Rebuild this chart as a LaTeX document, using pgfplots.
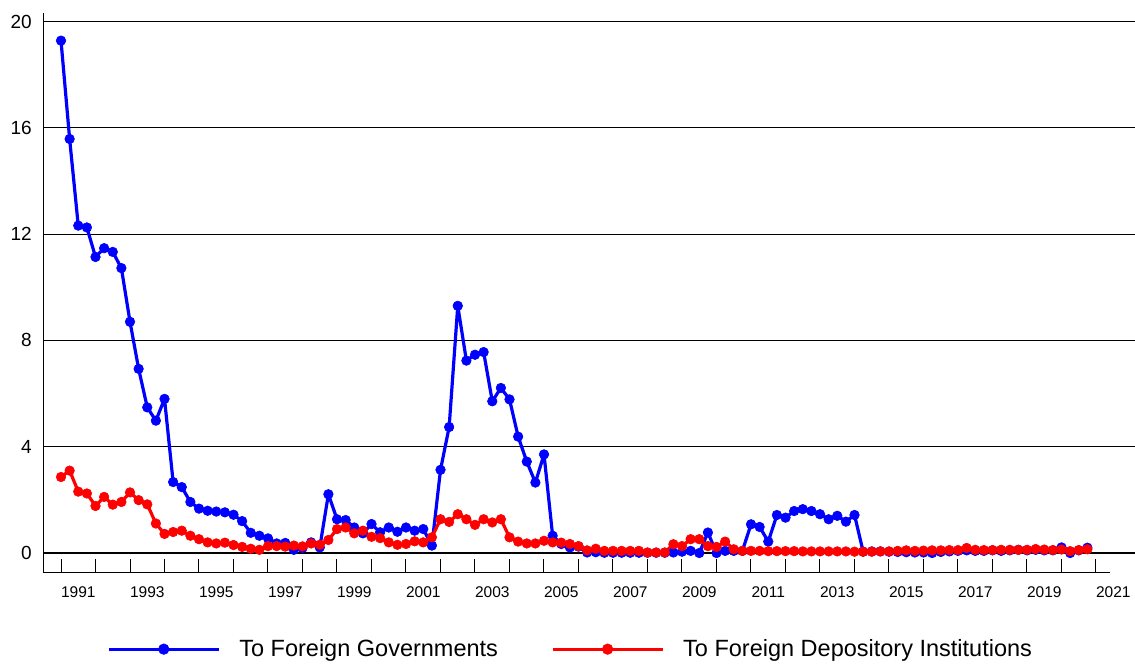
\documentclass[border=0pt]{standalone}
\usepackage{fontspec}
\setmainfont{Liberation Sans}
\usepackage{pgfplots}
\usepackage{pgfplotstable}
\pgfplotsset{compat=1.18}

\pgfplotstableread{
date gov dep
1991.00 19.28 2.86
1991.25 15.58 3.10
1991.50 12.32 2.31
1991.75 12.25 2.24
1992.00 11.14 1.77
1992.25 11.47 2.11
1992.50 11.33 1.82
1992.75 10.72 1.92
1993.00 8.70 2.28
1993.25 6.93 1.99
1993.50 5.48 1.83
1993.75 4.98 1.11
1994.00 5.80 0.72
1994.25 2.67 0.79
1994.50 2.48 0.84
1994.75 1.92 0.65
1995.00 1.67 0.52
1995.25 1.59 0.40
1995.50 1.56 0.36
1995.75 1.53 0.39
1996.00 1.44 0.30
1996.25 1.20 0.23
1996.50 0.76 0.16
1996.75 0.65 0.12
1997.00 0.55 0.26
1997.25 0.36 0.26
1997.50 0.38 0.24
1997.75 0.12 0.28
1998.00 0.19 0.25
1998.25 0.40 0.36
1998.50 0.21 0.31
1998.75 2.21 0.49
1999.00 1.27 0.90
1999.25 1.24 0.96
1999.50 0.96 0.74
1999.75 0.74 0.84
2000.00 1.09 0.61
2000.25 0.78 0.56
2000.50 0.96 0.40
2000.75 0.80 0.31
2001.00 0.96 0.34
2001.25 0.84 0.44
2001.50 0.90 0.40
2001.75 0.28 0.59
2002.00 3.13 1.27
2002.25 4.74 1.17
2002.50 9.30 1.46
2002.75 7.24 1.27
2003.00 7.46 1.06
2003.25 7.56 1.27
2003.50 5.71 1.15
2003.75 6.21 1.27
2004.00 5.78 0.59
2004.25 4.38 0.43
2004.50 3.44 0.36
2004.75 2.65 0.36
2005.00 3.71 0.46
2005.25 0.65 0.40
2005.50 0.34 0.39
2005.75 0.21 0.34
2006.00 0.24 0.26
2006.25 0.02 0.10
2006.50 0.03 0.16
2006.75 0.01 0.08
2007.00 0.01 0.08
2007.25 0.01 0.08
2007.50 0.01 0.08
2007.75 0.01 0.08
2008.00 0.01 0.02
2008.25 0.01 0.02
2008.50 0.01 0.02
2008.75 0.02 0.33
2009.00 0.05 0.26
2009.25 0.08 0.52
2009.50 0.00 0.52
2009.75 0.77 0.26
2010.00 0.00 0.23
2010.25 0.08 0.43
2010.50 0.08 0.14
2010.75 0.08 0.08
2011.00 1.08 0.08
2011.25 0.98 0.08
2011.50 0.43 0.07
2011.75 1.43 0.07
2012.00 1.33 0.07
2012.25 1.58 0.07
2012.50 1.65 0.06
2012.75 1.58 0.06
2013.00 1.46 0.06
2013.25 1.27 0.06
2013.50 1.40 0.06
2013.75 1.18 0.06
2014.00 1.43 0.05
2014.25 0.05 0.05
2014.50 0.06 0.05
2014.75 0.06 0.06
2015.00 0.05 0.06
2015.25 0.04 0.08
2015.50 0.03 0.10
2015.75 0.02 0.08
2016.00 0.02 0.09
2016.25 0.00 0.10
2016.50 0.04 0.10
2016.75 0.06 0.11
2017.00 0.08 0.11
2017.25 0.10 0.19
2017.50 0.08 0.12
2017.75 0.08 0.11
2018.00 0.10 0.11
2018.25 0.08 0.12
2018.50 0.10 0.12
2018.75 0.12 0.12
2019.00 0.10 0.12
2019.25 0.12 0.15
2019.50 0.10 0.13
2019.75 0.10 0.11
2020.00 0.21 0.13
2020.25 0.00 0.07
2020.50 0.10 0.11
2020.75 0.20 0.14
}\datatable

\begin{document}
\begin{tikzpicture}
\begin{axis}[
  scale only axis, width=1092pt, height=559pt,
  xmin=1990.478, xmax=2022.13, ymin=-0.715, ymax=20.32,
  clip=false,
  axis lines=left,
  axis line style={-, line width=1pt},
  x axis line style={draw=none},
  ytick={0,4,8,12,16,20},
  ymajorgrids, grid style={black, line width=1.1pt},
  xtick={1991.5,1993.5,1995.5,1997.5,1999.5,2001.5,2003.5,2005.5,2007.5,2009.5,2011.5,2013.5,2015.5,2017.5,2019.5,2021.5},
  xticklabels={1991,1993,1995,1997,1999,2001,2003,2005,2007,2009,2011,2013,2015,2017,2019,2021},
  minor xtick={1991,1992,...,2021},
  major tick length=0pt, minor tick length=13pt,
  tick align=inside,
  minor tick style={black, line width=1pt},
  /pgf/number format/assume math mode=true,
  xticklabel style={font=\fontsize{15.5}{18}\selectfont, inner sep=0pt, anchor=north, yshift=-14.5pt},
  yticklabel style={font=\fontsize{19}{22}\selectfont, inner sep=0pt, anchor=east, xshift=-11pt},
  legend columns=2,
  legend image code/.code={\draw[mark repeat=2,mark phase=2,#1,mark size=5.3pt] plot coordinates {(0pt,0pt) (55pt,0pt) (110pt,0pt)};},
  legend style={draw=none, fill=none, inner sep=0pt, at={(0.0586,-0.138)}, anchor=west,
    nodes={inner sep=0pt}, font=\fontsize{23.5}{28}\selectfont,
    /tikz/every odd column/.style={column sep=19pt},
    /tikz/every even column/.style={column sep=53pt}},
]
\addplot[color=blue, line width=3.2pt, line join=round, mark=*, mark size=4.8pt, mark options={solid, line width=0.6pt, fill=blue}] table[x=date, y=gov] {\datatable};
\addlegendentry{To Foreign Governments}
\addplot[color=red, line width=3.2pt, line join=round, mark=*, mark size=4.8pt, mark options={solid, line width=0.6pt, fill=red}] table[x=date, y=dep] {\datatable};
\addlegendentry{To Foreign Depository Institutions}
\draw[line width=1pt] (axis cs:1990.478,-0.715) -- (axis cs:2021.4,-0.715);
\coordinate (sw) at (rel axis cs:0,0);
\coordinate (ne) at (rel axis cs:1,1);
\end{axis}
\pgfresetboundingbox
\path ([xshift=-43pt,yshift=-92pt]sw) rectangle ([yshift=13pt]ne);
\end{tikzpicture}
\end{document}
